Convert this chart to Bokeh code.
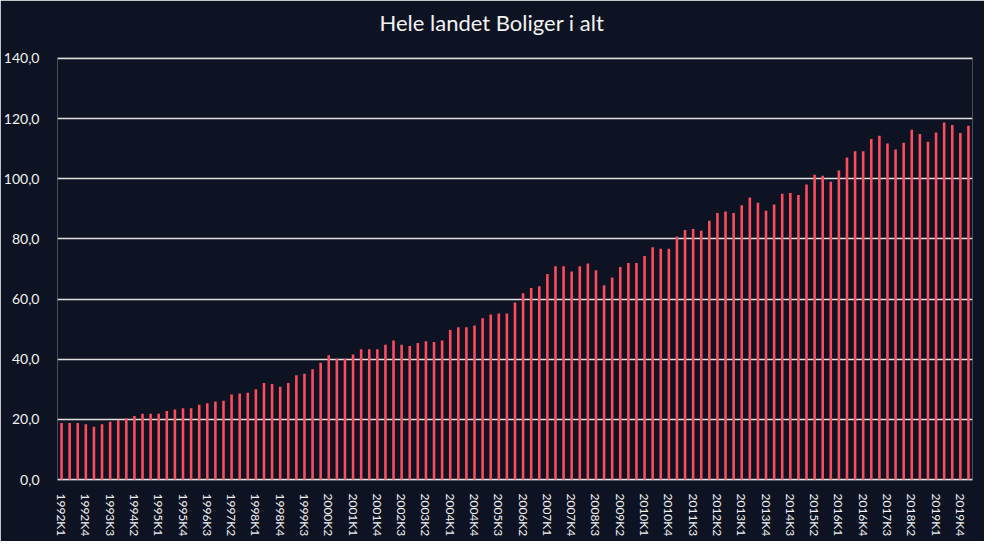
from bokeh.plotting import figure
from bokeh.models import Range1d, FixedTicker, Title, ColumnDataSource
from bokeh.embed import file_html
from bokeh.resources import INLINE

# ---- data ----
years = list(range(1992, 2021))
quarters = [f"{y}K{q}" for y in years for q in (1, 2, 3, 4)][:113]  # 1992K1 .. 2020K1

values = [
    18.8, 18.8, 18.8, 18.4, 17.6, 18.4, 19.2, 19.8, 20.4, 21.1,
    21.9, 21.9, 21.9, 22.8, 23.3, 23.7, 23.7, 24.9, 25.4, 26.0,
    26.2, 28.3, 28.6, 28.9, 30.0, 32.1, 31.8, 30.9, 32.1, 34.7,
    35.2, 36.7, 38.8, 41.3, 40.2, 40.2, 41.6, 43.3, 43.3, 43.3,
    44.8, 46.2, 44.8, 44.4, 45.4, 46.0, 45.7, 46.2, 49.7, 50.6,
    50.6, 51.2, 53.6, 54.9, 55.2, 55.2, 58.9, 61.9, 63.7, 64.3,
    68.3, 70.9, 70.9, 69.2, 70.9, 71.8, 69.6, 64.6, 67.2, 70.7,
    72.0, 72.0, 74.3, 77.2, 76.7, 76.7, 80.8, 83.0, 83.3, 82.7,
    86.0, 88.6, 89.1, 88.6, 91.2, 93.8, 92.0, 89.4, 91.4, 95.0,
    95.3, 94.6, 98.1, 101.3, 101.0, 99.0, 102.7, 107.1, 109.1, 109.1,
    113.2, 114.3, 111.7, 109.7, 112.0, 116.3, 114.9, 112.3, 115.4, 118.7,
    117.9, 115.2, 117.6,
]

y_ticks = [0, 20, 40, 60, 80, 100, 120, 140]
y_tick_labels = ["0,0", "20,0", "40,0", "60,0", "80,0", "100,0", "120,0", "140,0"]

title_text = "Hele landet Boliger i alt"

BG = "#0d1322"
BAR = "#ff4b5c"
GRID = "#e0e0e0"
TXT = "#f2f2f2"
FONT = "Lato"

# category index positions (one slot per quarter); every third quarter labelled
pos = list(range(len(quarters)))
label_pos = pos[::3]
source = ColumnDataSource(dict(x=pos, top=values, quarter=quarters))

p = figure(
    width=984, height=541,
    x_range=Range1d(-0.5, len(quarters) - 0.5),
    y_range=Range1d(-0.3, 140.3),
    output_backend="svg", toolbar_location=None,
    min_border_left=55, min_border_right=12,
    min_border_top=57, min_border_bottom=61,
)
p.title = None

p.background_fill_color = BG
p.border_fill_color = BG
p.outline_line_color = None

p.vbar(x="x", top="top", source=source, width=0.32, fill_color=BAR, line_color=None)

# spacer panel between frame and title, then the title itself
p.add_layout(Title(text=" ", text_font=FONT, text_font_size="10px",
                   text_color=BG, standoff=7), "above")
p.add_layout(Title(text=title_text, align="left", offset=322, vertical_align="middle",
                   text_font=FONT, text_font_size="22px", text_color=TXT,
                   text_font_style="normal", standoff=0), "above")

# y axis
p.yaxis.ticker = FixedTicker(ticks=y_ticks)
p.yaxis.major_label_overrides = dict(zip(y_ticks, y_tick_labels))
p.yaxis.axis_line_color = None
p.yaxis.major_tick_line_color = None
p.yaxis.minor_tick_line_color = None
p.yaxis.major_label_text_color = TXT
p.yaxis.major_label_text_font = FONT
p.yaxis.major_label_text_font_size = "14px"
p.yaxis.major_label_standoff = 12

p.ygrid.ticker = FixedTicker(ticks=y_ticks)
p.ygrid.grid_line_color = GRID
p.ygrid.grid_line_width = 1.5
p.xgrid.grid_line_color = None

# x axis
p.xaxis.ticker = FixedTicker(ticks=label_pos)
p.xaxis.major_label_overrides = {i: quarters[i] for i in label_pos}
p.xaxis.major_label_orientation = "vertical"
p.xaxis.axis_line_color = None
p.xaxis.major_tick_line_color = None
p.xaxis.minor_tick_line_color = None
p.xaxis.major_label_text_color = TXT
p.xaxis.major_label_text_font = FONT
p.xaxis.major_label_text_font_size = "12px"
p.xaxis.major_label_standoff = 7

open("out.html", "w").write(file_html(p, INLINE))
